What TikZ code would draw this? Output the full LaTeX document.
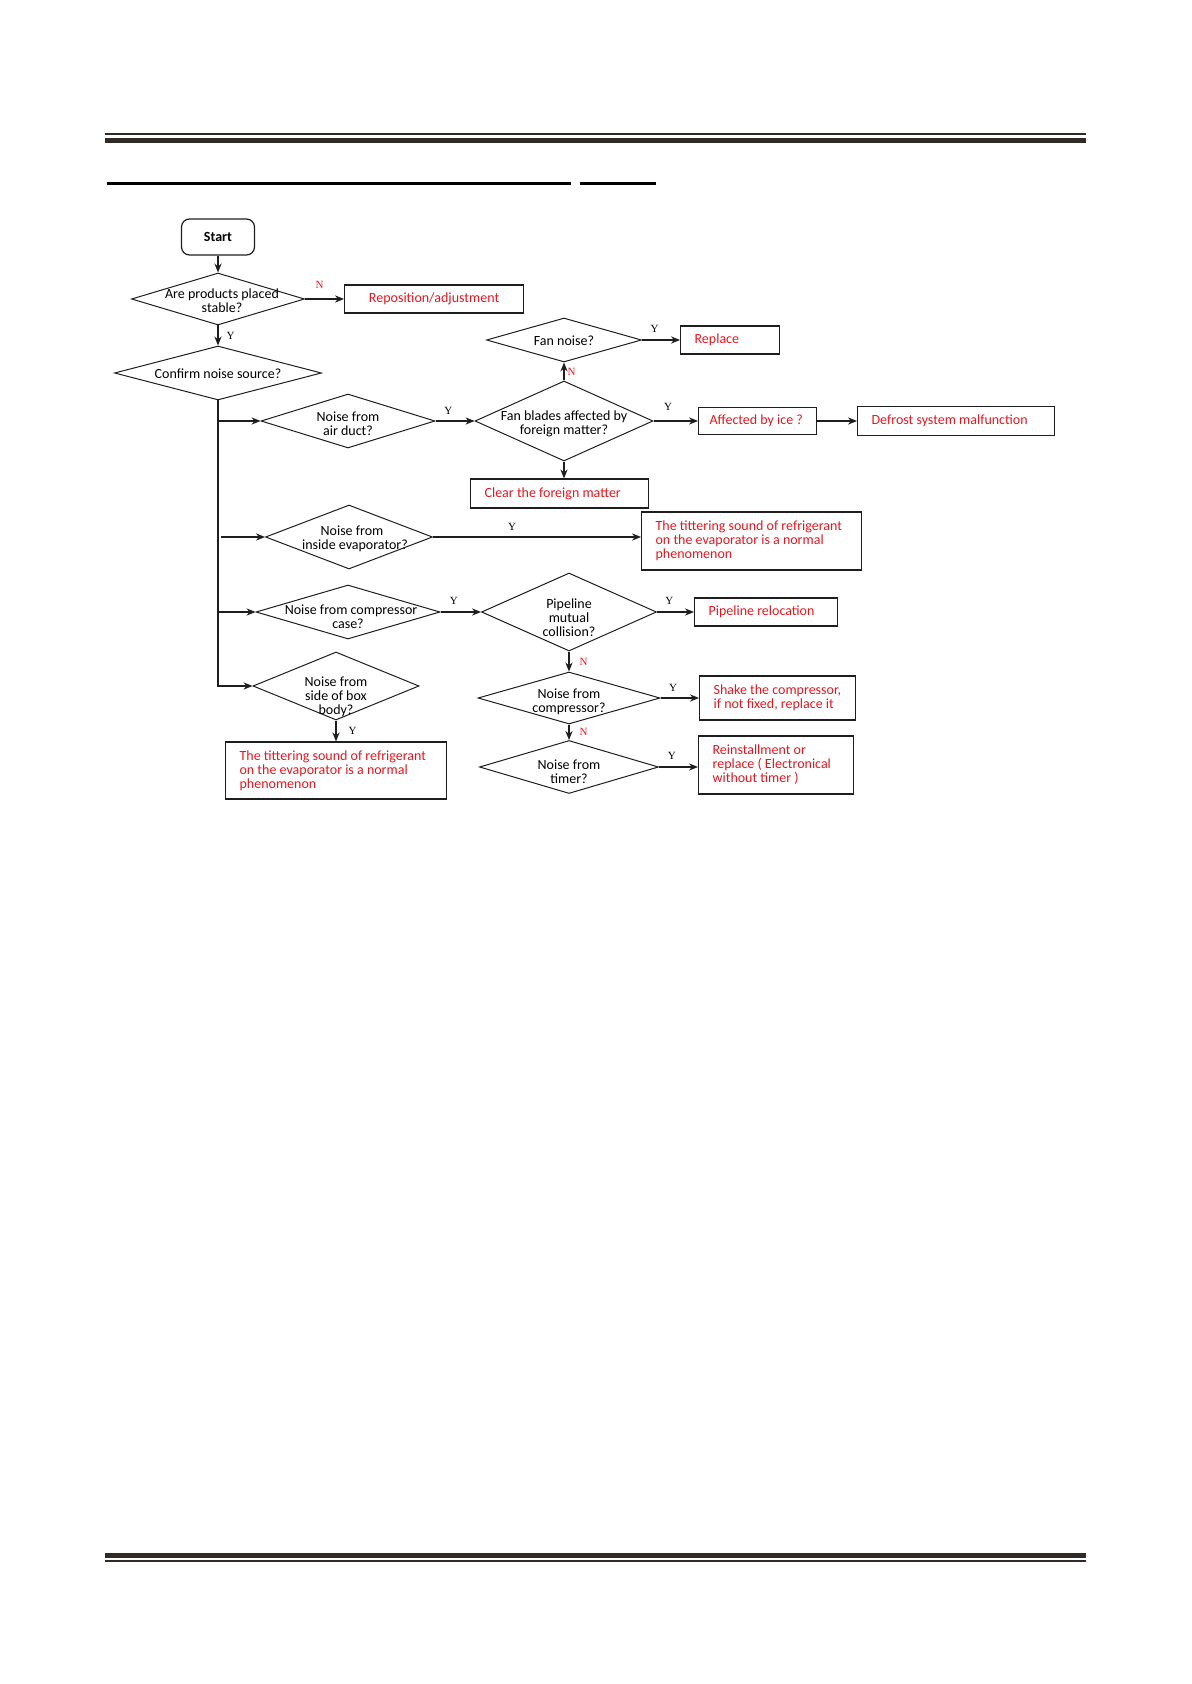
\documentclass[tikz,border=0pt]{standalone}
\usepackage{fontspec}
\setmainfont{Carlito}
\newfontfamily\ynfont{Liberation Serif}
\usepackage{xcolor}
\usepackage{tikz}
\usetikzlibrary{shapes.geometric, arrows.meta}
\definecolor{warn}{HTML}{E5161E}
\definecolor{pagerule}{HTML}{2F2A26}
\definecolor{linegray}{HTML}{1E1E1E}
% diamond text: takes no room, so the diamond keeps its given size
\newcommand{\dlabel}[2][0pt]{\makebox[0pt]{\raisebox{\dimexpr-3.3pt-#1\relax}[0pt][0pt]{\begin{tabular}{@{}c@{}}#2\end{tabular}}}}

\begin{document}
\begin{tikzpicture}[x=0.5pt, y=-0.5pt,
    font=\fontsize{7}{7}\selectfont,
    >={Stealth[length=4.5pt, width=3.6pt]},
    dec/.style={diamond, draw=linegray, line width=0.5pt, inner sep=0pt},
    result/.style={rectangle, draw=linegray, line width=0.6pt, anchor=west, align=left, inner xsep=7pt, inner ysep=1pt, text=warn,
      execute at begin node={\spaceskip=0pt\xspaceskip=0pt\hyphenpenalty=10000}},
    flow/.style={->, line width=0.6pt, draw=linegray},
    ylab/.style={font=\ynfont\fontsize{5.5}{5.5}\selectfont, inner sep=1pt, pos=0.33},
    nlab/.style={ylab, text=warn}]
  \useasboundingbox (0,0) rectangle (1191,1684);

  % page rules
  \draw[pagerule, line width=1pt] (105,134.5) -- (1086,134.5);
  \draw[pagerule, line width=2.5pt] (105,140.5) -- (1086,140.5);
  \draw[line width=1.5pt] (107,184) -- (571,184);
  \draw[line width=1.5pt] (580,184) -- (656,184);
  \draw[pagerule, line width=2.5pt] (105,1555.5) -- (1086,1555.5);
  \draw[pagerule, line width=1pt] (105,1560.5) -- (1086,1560.5);

  % left column
  \node (start) [draw=linegray, rounded corners=4pt, line width=0.6pt, minimum width=36.5pt, minimum height=18pt, font=\bfseries\fontsize{7}{7}\selectfont] at (218,237) {Start};
  \node (q1) [dec, minimum width=86.5pt, minimum height=26pt] at (218,299) {\dlabel[0.5pt]{\hspace*{4pt}Are products placed\\\hspace*{4pt}stable?}};
  \node (repo) [result, text width=75.5pt, minimum height=14pt, align=center] at (344,299) {Reposition/adjustment};
  \node (q2) [dec, minimum width=103.5pt, minimum height=27pt] at (218,373) {\dlabel{Confirm noise source?}};
  \node (air) [dec, minimum width=87pt, minimum height=27pt] at (348,421) {\dlabel[1pt]{Noise from\\air duct?}};
  \node (evq) [dec, minimum width=83.5pt, minimum height=32pt] at (349,537) {\dlabel{\hspace*{3pt}Noise from\\\hspace*{6pt}inside evaporator?}};
  \node (ccase) [dec, minimum width=92pt, minimum height=27pt] at (348,612) {\dlabel[2pt]{\hspace*{3pt}Noise from compressor\\case?}};
  \node (side) [dec, minimum width=83pt, minimum height=34pt] at (336,686) {\dlabel[4.5pt]{Noise from\\side of box\\body?}};
  \node (sres) [result, text width=96.5pt, minimum height=28.5pt] at (225,770.5) {The tittering sound of refrigerant\\on the evaporator is a normal\\phenomenon};

  % fan branch
  \node (fb) [dec, minimum width=89pt, minimum height=40pt] at (564,421) {\dlabel[0.5pt]{Fan blades affected by\\foreign matter?}};
  \node (fan) [dec, minimum width=77.5pt, minimum height=22pt] at (564,340) {\dlabel{Fan noise?}};
  \node (replace) [result, text width=35.5pt, minimum height=14pt] at (680,340) {Replace};
  \node (ice) [result, text width=48pt, inner xsep=5.5pt, minimum height=13.5pt] at (698,421) {Affected by ice ?};
  \node (defrost) [result, text width=84.5pt, minimum height=14.5pt] at (857,421) {Defrost system malfunction};
  \node (clear) [result, text width=75pt, minimum height=14.5pt] at (470,493.5) {Clear the foreign matter};
  \node (evbox) [result, text width=96pt, minimum height=29pt] at (641,541) {The tittering sound of refrigerant\\on the evaporator is a normal\\phenomenon};

  % compressor branch
  \node (pipe) [dec, minimum width=87.5pt, minimum height=39pt] at (569,612) {\dlabel[2.5pt]{Pipeline\\mutual\\collision?}};
  \node (reloc) [result, text width=57.5pt, minimum height=14pt] at (694,612) {Pipeline relocation};
  \node (cmp) [dec, minimum width=91pt, minimum height=26pt] at (569,698) {\dlabel[0.8pt]{Noise from\\compressor?}};
  \node (shake) [result, text width=64pt, minimum height=22pt] at (699,698) {Shake the compressor,\\if not fixed, replace it};
  \node (timer) [dec, minimum width=89.5pt, minimum height=26.5pt] at (569,767) {\dlabel[2pt]{Noise from\\timer?}};
  \node (reinst) [result, text width=63.5pt, minimum height=29pt] at (698,765) {Reinstallment or\\replace ( Electronical\\without timer )};

  % connectors
  \draw[flow] (start) -- (q1);
  \draw[flow] (q1.east) -- node[nlab, above=4pt, pos=0.375] {N} (repo.west);
  \draw[flow] (q1) -- node[ylab, right=3pt, pos=0.5] {Y} (q2);
  \draw[flow] (q2.south) |- (side.west);
  \draw[flow] (q2.south |- air.west) -- (air.west);
  \draw[flow] ([xshift=1.5pt]q2.south |- evq.west) -- (evq.west);
  \draw[flow] (q2.south |- ccase.west) -- (ccase.west);
  \draw[flow] (air.east) -- node[ylab, above=2pt] {Y} (fb.west);
  \draw[flow] (fb) -- node[nlab, right=0.5pt, pos=0.5] {N} (fan);
  \draw[flow] (fan.east) -- node[ylab, above=2.5pt] {Y} (replace.west);
  \draw[flow] (fb.east) -- node[ylab, above=4pt] {Y} (ice.west);
  \draw[flow] (ice) -- (defrost);
  \draw[flow] (fb.south) -- (fb.south |- clear.north);
  \draw[flow] (evq.east) -- node[ylab, above=2pt, pos=0.38] {Y} (evq.east -| evbox.west);
  \draw[flow] (ccase.east) -- node[ylab, above=2.5pt] {Y} (pipe.west);
  \draw[flow] (pipe.east) -- node[ylab, above=2.5pt] {Y} (reloc.west);
  \draw[flow] (pipe) -- node[nlab, right=4pt, pos=0.5] {N} (cmp);
  \draw[flow] (cmp.east) -- node[ylab, above=2pt] {Y} (shake.west);
  \draw[flow] (cmp) -- node[nlab, right=4pt, pos=0.5] {N} (timer);
  \draw[flow] (timer.east) -- node[ylab, above=2.5pt] {Y} (timer.east -| reinst.west);
  \draw[flow] (side.south) -- node[ylab, right=5pt, pos=0.5] {Y} (side.south |- sres.north);
\end{tikzpicture}
\end{document}
